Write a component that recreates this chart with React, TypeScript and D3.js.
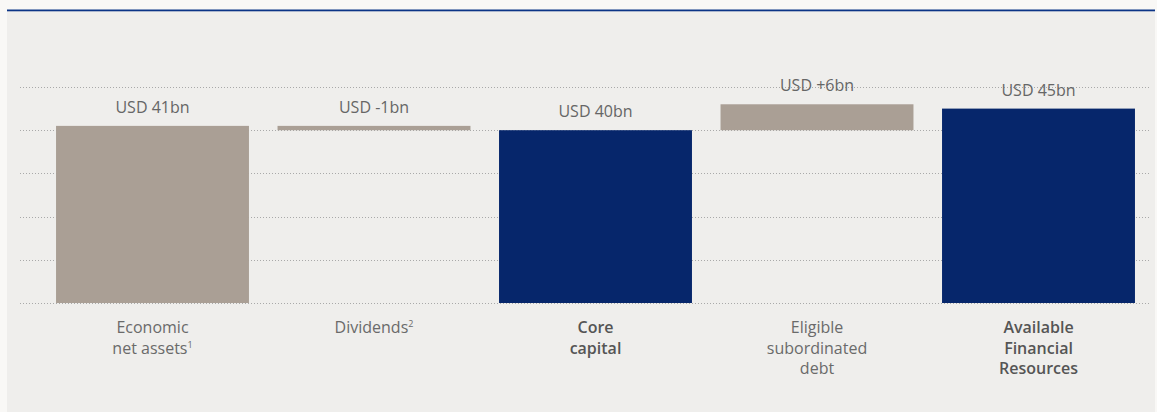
import * as d3 from "d3";
import { useEffect, useRef } from "react";

// waterfall steps (USD bn)
const categories = ["Economic net assets", "Dividends", "Core capital", "Eligible subordinated debt", "Available Financial Resources"];
const categoryLines = [["Economic", "net assets"], ["Dividends"], ["Core", "capital"], ["Eligible", "subordinated", "debt"], ["Available", "Financial", "Resources"]];
const footnotes = ["1", "2", "", "", ""];
const barStart = [0, 40, 0, 40, 0];
const barEnd = [41, 41, 40, 46, 45];
const isTotal = [false, false, true, false, true];
const valueLabels = ["USD 41bn", "USD -1bn", "USD 40bn", "USD +6bn", "USD 45bn"];
const gridTicks = [0, 10, 20, 30, 40, 50];

export default function App() {
  const svgRef = useRef<SVGSVGElement>(null);

  useEffect(() => {
    document.body.style.margin = "0";
    const width = 1157;
    const height = 412;
    const svg = d3.select(svgRef.current);
    svg.selectAll("*").remove();
    svg.attr("width", width).attr("height", height);

    const font = "'Open Sans', 'Noto Sans', sans-serif";

    svg.append("rect").attr("width", width).attr("height", height).attr("fill", "#f9f8f6");
    svg.append("rect").attr("x", 7).attr("y", 10).attr("width", 1148).attr("height", height - 10).attr("fill", "#efeeec");
    svg.append("rect").attr("x", 7).attr("y", 9.5).attr("width", 1148).attr("height", 1.8).attr("fill", "#0b3486");

    const x = d3.scaleBand().domain(categories).range([41.75, 1149.25]).paddingInner(0.129).paddingOuter(0.0645);
    const y = d3.scaleLinear().domain([0, 50]).range([303, 87]);

    // dotted grid
    svg.append("g")
      .selectAll("line")
      .data(gridTicks)
      .enter()
      .append("line")
      .attr("x1", 20)
      .attr("x2", 1150)
      .attr("y1", d => Math.round(y(d)) + 0.5)
      .attr("y2", d => Math.round(y(d)) + 0.5)
      .attr("stroke", "#a9a9a9")
      .attr("stroke-width", 1)
      .attr("stroke-dasharray", "1,2");

    const idx = d3.range(categories.length);

    svg.append("g")
      .selectAll("rect")
      .data(idx)
      .enter()
      .append("rect")
      .attr("x", i => x(categories[i]))
      .attr("width", x.bandwidth())
      .attr("y", i => y(Math.max(barStart[i], barEnd[i])))
      .attr("height", i => Math.abs(y(barStart[i]) - y(barEnd[i])))
      .attr("fill", i => (isTotal[i] ? "#06266b" : "#aa9f95"));

    // value labels
    svg.append("g")
      .selectAll("text")
      .data(idx)
      .enter()
      .append("text")
      .attr("x", i => x(categories[i]) + x.bandwidth() / 2)
      .attr("y", i => y(Math.max(barStart[i], barEnd[i])) - 13)
      .attr("text-anchor", "middle")
      .attr("font-family", font)
      .attr("font-size", 16)
      .attr("fill", "#666666")
      .text(i => valueLabels[i]);

    // category labels
    idx.forEach(i => {
      const t = svg.append("text")
        .attr("x", x(categories[i]) + x.bandwidth() / 2)
        .attr("y", 333)
        .attr("text-anchor", "middle")
        .attr("font-family", font)
        .attr("font-size", 16)
        .attr("font-weight", isTotal[i] ? 600 : 400)
        .attr("fill", isTotal[i] ? "#555555" : "#6a6a6a");
      const lines = categoryLines[i];
      lines.forEach((line, j) => {
        const ts = t.append("tspan")
          .attr("x", x(categories[i]) + x.bandwidth() / 2)
          .attr("dy", j === 0 ? 0 : 20.5)
          .text(line);
        if (j === lines.length - 1 && footnotes[i]) {
          ts.append("tspan")
            .attr("font-size", 9)
            .attr("baseline-shift", "super")
            .text(footnotes[i]);
        }
      });
    });
  }, []);

  return <svg ref={svgRef} style={{ display: "block" }} />;
}
